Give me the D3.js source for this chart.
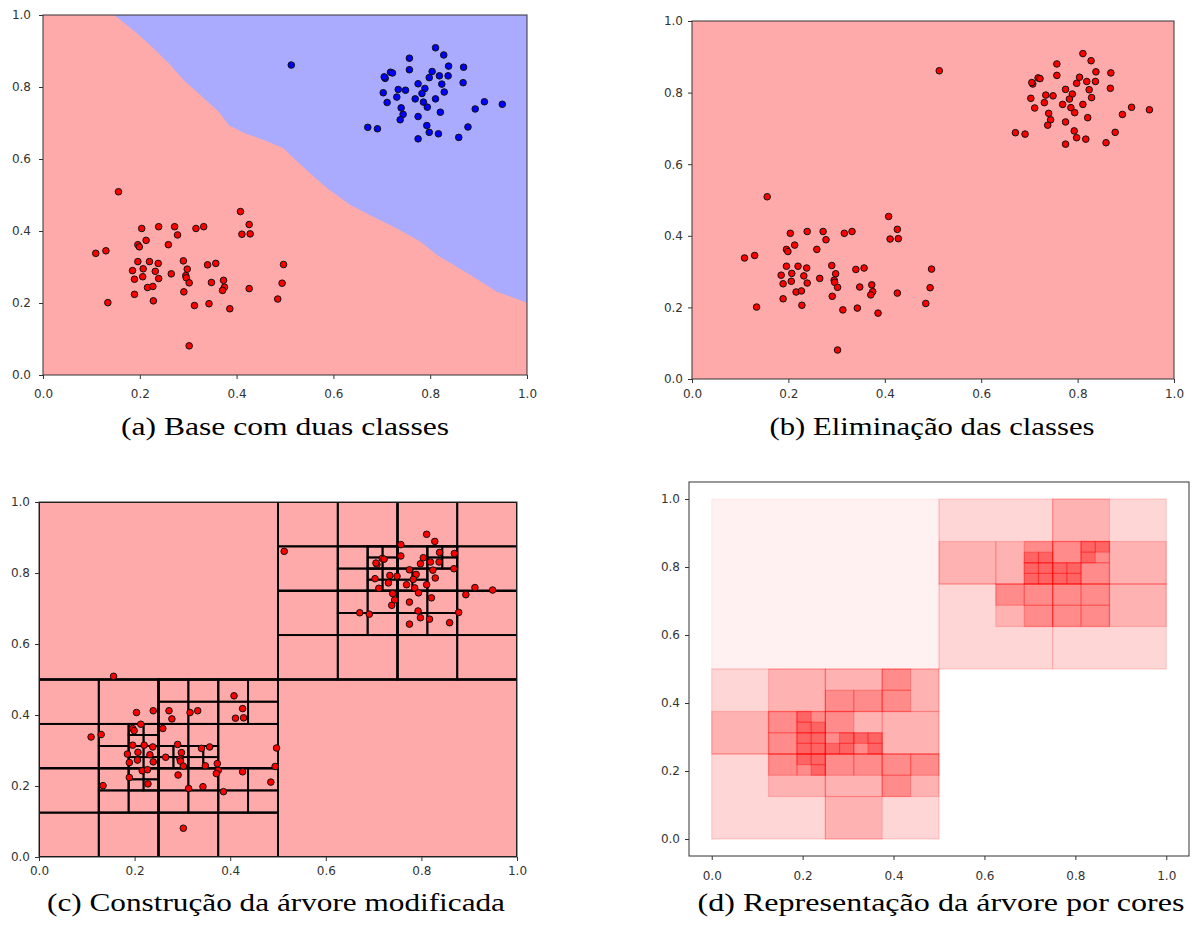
<!DOCTYPE html>
<html>
<head>
<meta charset="utf-8">
<script src="https://cdnjs.cloudflare.com/ajax/libs/d3/7.8.5/d3.min.js"></script>
<style>
body { margin: 0; background: #fff; }
.tick text { font-family: "DejaVu Sans", sans-serif; font-size: 12px; fill: #333; }
.tick line { stroke: #333; }
.caption { font-family: "Liberation Serif", serif; font-size: 25px; fill: #000; }
</style>
</head>
<body>
<svg id="fig" width="1195" height="925"></svg>
<script>
// class 0 (red cluster)
var redX = [0.156, 0.109, 0.130, 0.134, 0.204, 0.239, 0.272, 0.278, 0.316, 0.332,
            0.408, 0.426, 0.411, 0.428, 0.213, 0.196, 0.199, 0.259, 0.196, 0.220,
            0.238, 0.290, 0.185, 0.207, 0.232, 0.189, 0.206, 0.239, 0.265, 0.216,
            0.227, 0.189, 0.228, 0.298, 0.295, 0.296, 0.302, 0.291, 0.313, 0.340,
            0.357, 0.348, 0.373, 0.375, 0.371, 0.343, 0.386, 0.426, 0.497, 0.494,
            0.485, 0.302];
var redY = [0.509, 0.338, 0.345, 0.201, 0.407, 0.412, 0.412, 0.389, 0.407, 0.412,
            0.454, 0.418, 0.391, 0.392, 0.374, 0.362, 0.356, 0.362, 0.315, 0.315,
            0.310, 0.317, 0.290, 0.295, 0.288, 0.266, 0.273, 0.268, 0.281, 0.243,
            0.246, 0.224, 0.206, 0.294, 0.276, 0.270, 0.256, 0.231, 0.193, 0.306,
            0.310, 0.257, 0.263, 0.244, 0.235, 0.198, 0.184, 0.240, 0.307, 0.255,
            0.211, 0.081];
// class 1 (blue cluster)
var blueX = [0.513, 0.811, 0.828, 0.757, 0.757, 0.838, 0.869, 0.804, 0.718, 0.722,
             0.707, 0.705, 0.819, 0.837, 0.798, 0.868, 0.775, 0.824, 0.789, 0.749,
             0.734, 0.703, 0.783, 0.829, 0.731, 0.711, 0.769, 0.811, 0.786, 0.794,
             0.893, 0.912, 0.949, 0.740, 0.744, 0.738, 0.775, 0.821, 0.671, 0.691,
             0.793, 0.798, 0.817, 0.878, 0.775, 0.859];
var blueY = [0.861, 0.909, 0.889, 0.880, 0.848, 0.858, 0.855, 0.843, 0.841, 0.839,
             0.824, 0.828, 0.831, 0.831, 0.826, 0.812, 0.809, 0.808, 0.796, 0.791,
             0.793, 0.784, 0.782, 0.786, 0.772, 0.757, 0.767, 0.767, 0.758, 0.744,
             0.739, 0.759, 0.752, 0.742, 0.724, 0.709, 0.718, 0.730, 0.688, 0.684,
             0.693, 0.674, 0.670, 0.689, 0.656, 0.660];
// decision boundary of panel (a)
var boundaryX = [0.147, 0.194, 0.225, 0.263, 0.291, 0.325, 0.363, 0.384, 0.418, 0.456,
                 0.497, 0.511, 0.545, 0.587, 0.635, 0.676, 0.731, 0.780, 0.814, 0.883,
                 0.938, 0.993, 1.000];
var boundaryY = [1.000, 0.949, 0.912, 0.861, 0.819, 0.778, 0.731, 0.694, 0.671, 0.653,
                 0.630, 0.611, 0.569, 0.519, 0.472, 0.444, 0.407, 0.370, 0.333, 0.278,
                 0.231, 0.204, 0.200];
var tickValues = [0, 0.2, 0.4, 0.6, 0.8, 1.0];
var captions = ["(a) Base com duas classes", "(b) Eliminação das classes",
                "(c) Construção da árvore modificada", "(d) Representação da árvore por cores"];

var svg = d3.select("#fig");
svg.append("rect").attr("width", 1195).attr("height", 925).attr("fill", "#fff");

var redPts = redX.map(function(x, i) { return [x, redY[i]]; });
var bluePts = blueX.map(function(x, i) { return [x, blueY[i]]; });
var allPts = redPts.concat(bluePts);

// modified quadtree: split while a cell holds 4 or more points
var maxDepth = 5;
var nodes = [];
function buildTree(x0, y0, size, depth, pts) {
  nodes.push({ x0: x0, y0: y0, size: size, depth: depth, n: pts.length });
  if (pts.length < 4 || depth >= maxDepth) return;
  var h = size / 2;
  [[0, 0], [1, 0], [0, 1], [1, 1]].forEach(function(o) {
    var cx = x0 + o[0] * h, cy = y0 + o[1] * h;
    var sub = pts.filter(function(p) {
      return p[0] >= cx && p[0] < cx + h && p[1] >= cy && p[1] < cy + h;
    });
    buildTree(cx, cy, h, depth + 1, sub);
  });
}
buildTree(0, 0, 1, 0, allPts);

function panel(id, cfg) {
  var x = d3.scaleLinear().domain(cfg.dom).range([cfg.left, cfg.left + cfg.w]);
  var y = d3.scaleLinear().domain(cfg.dom).range([cfg.top + cfg.h, cfg.top]);
  var g = svg.append("g").attr("id", id);
  g.append("clipPath").attr("id", id + "clip")
    .append("rect").attr("x", cfg.left).attr("y", cfg.top).attr("width", cfg.w).attr("height", cfg.h);
  g.append("rect").attr("x", cfg.left).attr("y", cfg.top)
    .attr("width", cfg.w).attr("height", cfg.h).attr("fill", cfg.bg);
  var plot = g.append("g").attr("clip-path", "url(#" + id + "clip)");

  g.append("g").attr("transform", "translate(0," + (cfg.top + cfg.h) + ")")
    .call(d3.axisBottom(x).tickValues(tickValues).tickFormat(d3.format(".1f"))
      .tickSize(4).tickPadding(cfg.padX))
    .call(function(a) { a.select(".domain").remove(); });
  g.append("g").attr("transform", "translate(" + cfg.left + ",0)")
    .call(d3.axisLeft(y).tickValues(tickValues).tickFormat(d3.format(".1f"))
      .tickSize(4).tickPadding(cfg.padY))
    .call(function(a) { a.select(".domain").remove(); });

  return { x: x, y: y, g: g, plot: plot, cfg: cfg };
}

function frame(p) {
  p.g.append("rect").attr("x", p.cfg.left).attr("y", p.cfg.top)
    .attr("width", p.cfg.w).attr("height", p.cfg.h)
    .attr("fill", "none").attr("stroke", "#333").attr("stroke-width", 1);
}

function dots(p, pts, color) {
  p.plot.selectAll(null).data(pts).enter().append("circle")
    .attr("cx", function(d) { return p.x(d[0]); })
    .attr("cy", function(d) { return p.y(d[1]); })
    .attr("r", 3.3)
    .attr("fill", color)
    .attr("stroke", "#111")
    .attr("stroke-width", 1);
}

function caption(text, cx, base, len) {
  svg.append("text").attr("class", "caption")
    .attr("x", cx).attr("y", base).attr("text-anchor", "middle")
    .attr("textLength", len).attr("lengthAdjust", "spacingAndGlyphs")
    .text(text);
}

// (a)
var pa = panel("pa", { left: 43, top: 15, w: 484, h: 360, dom: [0, 1], bg: "#ffaaaa", padX: 10, padY: 8 });
var region = boundaryX.map(function(x, i) { return [x, boundaryY[i]]; }).concat([[1, 1]]);
pa.plot.append("path")
  .attr("d", d3.line().x(function(d) { return pa.x(d[0]); }).y(function(d) { return pa.y(d[1]); })(region) + "Z")
  .attr("fill", "#aaaaff");
dots(pa, redPts, "#ff0000");
dots(pa, bluePts, "#0000ff");
frame(pa);
caption(captions[0], 285, 435, 328);

// (b)
var pb = panel("pb", { left: 692, top: 21, w: 482, h: 358, dom: [0, 1], bg: "#ffaaaa", padX: 6, padY: 5 });
dots(pb, allPts, "#ff0000");
frame(pb);
caption(captions[1], 932, 435, 325);

// (c)
var pc = panel("pc", { left: 39, top: 502, w: 478, h: 355, dom: [0, 1], bg: "#ffaaaa", padX: 5, padY: 5 });
pc.plot.selectAll(null).data(nodes.filter(function(d) { return d.depth > 0; })).enter().append("rect")
  .attr("x", function(d) { return pc.x(d.x0); })
  .attr("y", function(d) { return pc.y(d.y0 + d.size); })
  .attr("width", function(d) { return pc.x(d.x0 + d.size) - pc.x(d.x0); })
  .attr("height", function(d) { return pc.y(d.y0) - pc.y(d.y0 + d.size); })
  .attr("fill", "none").attr("stroke", "#000").attr("stroke-width", 1.8);
dots(pc, allPts, "#ff0000");
frame(pc);
caption(captions[2], 276, 911, 458);

// (d)
var pd = panel("pd", { left: 689, top: 482, w: 500, h: 374, dom: [-0.05, 1.05], bg: "#fff", padX: 11, padY: 5 });
pd.plot.selectAll(null).data(nodes.filter(function(d) { return d.depth > 0 && d.n > 0; })).enter().append("rect")
  .attr("x", function(d) { return pd.x(d.x0); })
  .attr("y", function(d) { return pd.y(d.y0 + d.size); })
  .attr("width", function(d) { return pd.x(d.x0 + d.size) - pd.x(d.x0); })
  .attr("height", function(d) { return pd.y(d.y0) - pd.y(d.y0 + d.size); })
  .attr("fill", "#ff0000").attr("fill-opacity", function(d) { return 0.055 * d.depth; })
  .attr("stroke", "#ff0000").attr("stroke-opacity", function(d) { return 0.055 * d.depth; })
  .attr("stroke-width", 1.2);
frame(pd);
caption(captions[3], 941, 911, 487);
</script>
</body>
</html>
